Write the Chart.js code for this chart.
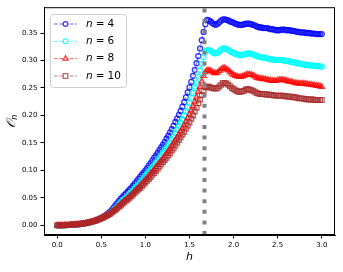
<!DOCTYPE html>
<html><head><meta charset="utf-8">
<script src="https://cdn.jsdelivr.net/npm/chart.js@4.4.0/dist/chart.umd.min.js"></script>
<style>html,body{margin:0;padding:0;background:#fff;}#wrap{width:343px;height:272px;}</style>
</head><body><div id="wrap"><canvas id="c" width="343" height="272"></canvas></div>
<script>
const h = [
0.00,0.02,0.04,0.06,0.08,0.10,0.12,0.14,0.16,0.18,
0.20,0.22,0.24,0.26,0.28,0.30,0.32,0.34,0.36,0.38,
0.40,0.42,0.44,0.46,0.48,0.50,0.52,0.54,0.56,0.58,
0.60,0.62,0.64,0.66,0.68,0.70,0.72,0.74,0.76,0.78,
0.80,0.82,0.84,0.86,0.88,0.90,0.92,0.94,0.96,0.98,
1.00,1.02,1.04,1.06,1.08,1.10,1.12,1.14,1.16,1.18,
1.20,1.22,1.24,1.26,1.28,1.30,1.32,1.34,1.36,1.38,
1.40,1.42,1.44,1.46,1.48,1.50,1.52,1.54,1.56,1.58,
1.60,1.62,1.64,1.66,1.68,1.70,1.72,1.74,1.76,1.78,
1.80,1.82,1.84,1.86,1.88,1.90,1.92,1.94,1.96,1.98,
2.00,2.02,2.04,2.06,2.08,2.10,2.12,2.14,2.16,2.18,
2.20,2.22,2.24,2.26,2.28,2.30,2.32,2.34,2.36,2.38,
2.40,2.42,2.44,2.46,2.48,2.50,2.52,2.54,2.56,2.58,
2.60,2.62,2.64,2.66,2.68,2.70,2.72,2.74,2.76,2.78,
2.80,2.82,2.84,2.86,2.88,2.90,2.92,2.94,2.96,2.98,
3.00];

const n4 = [
0,0,0.0000,0.0001,0.0002,0.0003,0.0004,0.0006,0.0008,0.0010,
0.0013,0.0016,0.0019,0.0023,0.0027,0.0032,0.0038,0.0044,0.0051,0.0059,
0.0067,0.0077,0.0088,0.0100,0.0113,0.0130,0.0150,0.0170,0.0193,0.0220,
0.025,0.028,0.032,0.036,0.040,0.044,0.048,0.051,0.055,0.058,
0.061,0.065,0.068,0.072,0.076,0.080,0.084,0.088,0.092,0.096,
0.100,0.104,0.109,0.113,0.118,0.123,0.127,0.132,0.137,0.142,
0.147,0.152,0.158,0.163,0.169,0.175,0.181,0.188,0.194,0.201,
0.208,0.216,0.224,0.233,0.242,0.251,0.261,0.272,0.283,0.295,
0.308,0.322,0.337,0.352,0.366,0.374,0.373,0.371,0.368,0.366,
0.365,0.367,0.370,0.373,0.375,0.375,0.374,0.373,0.371,0.370,
0.369,0.367,0.366,0.365,0.365,0.365,0.366,0.367,0.367,0.367,
0.366,0.365,0.364,0.362,0.361,0.360,0.360,0.359,0.359,0.359,
0.358,0.357,0.357,0.356,0.355,0.355,0.355,0.356,0.356,0.356,
0.355,0.355,0.355,0.354,0.354,0.353,0.352,0.352,0.351,0.351,
0.351,0.350,0.350,0.350,0.349,0.349,0.349,0.348,0.348,0.348,
0.348];

const n6 = [
0,0,0.0000,0.0001,0.0002,0.0003,0.0004,0.0006,0.0008,0.0010,
0.0013,0.0016,0.0019,0.0023,0.0027,0.0032,0.0038,0.0044,0.0051,0.0059,
0.0067,0.0077,0.0088,0.0100,0.0113,0.0127,0.0142,0.0158,0.0177,0.0198,
0.0225,0.025,0.028,0.031,0.034,0.038,0.041,0.045,0.048,0.050,
0.053,0.057,0.060,0.063,0.067,0.071,0.074,0.078,0.082,0.086,
0.090,0.094,0.098,0.102,0.106,0.110,0.114,0.118,0.123,0.127,
0.132,0.137,0.141,0.146,0.151,0.157,0.162,0.168,0.174,0.180,
0.187,0.193,0.200,0.207,0.215,0.223,0.232,0.241,0.250,0.260,
0.271,0.282,0.294,0.306,0.316,0.319,0.319,0.318,0.315,0.313,
0.313,0.314,0.317,0.320,0.322,0.322,0.321,0.319,0.317,0.315,
0.314,0.312,0.311,0.310,0.310,0.310,0.311,0.312,0.313,0.313,
0.312,0.311,0.310,0.308,0.307,0.306,0.306,0.305,0.305,0.304,
0.303,0.302,0.302,0.301,0.301,0.301,0.301,0.301,0.300,0.300,
0.299,0.299,0.298,0.297,0.297,0.296,0.295,0.295,0.294,0.293,
0.293,0.292,0.292,0.291,0.291,0.291,0.290,0.290,0.290,0.289,
0.289];

const n8 = [
0,0,0.0000,0.0001,0.0002,0.0003,0.0004,0.0006,0.0008,0.0010,
0.0013,0.0016,0.0019,0.0023,0.0027,0.0032,0.0038,0.0044,0.0051,0.0059,
0.0067,0.0077,0.0088,0.0100,0.0113,0.0127,0.0142,0.0158,0.0175,0.0194,
0.0215,0.024,0.027,0.029,0.032,0.035,0.038,0.041,0.044,0.047,
0.049,0.052,0.055,0.058,0.062,0.065,0.068,0.072,0.075,0.079,
0.083,0.086,0.090,0.094,0.098,0.102,0.106,0.110,0.114,0.118,
0.122,0.126,0.131,0.135,0.140,0.145,0.150,0.155,0.160,0.165,
0.171,0.176,0.182,0.189,0.195,0.202,0.209,0.217,0.225,0.233,
0.243,0.252,0.262,0.272,0.279,0.282,0.282,0.281,0.279,0.277,
0.277,0.278,0.281,0.284,0.286,0.286,0.284,0.282,0.279,0.276,
0.274,0.272,0.271,0.270,0.270,0.271,0.272,0.274,0.275,0.275,
0.274,0.273,0.271,0.269,0.268,0.267,0.267,0.266,0.266,0.265,
0.264,0.264,0.263,0.263,0.263,0.264,0.265,0.265,0.265,0.264,
0.263,0.262,0.261,0.261,0.260,0.259,0.259,0.258,0.258,0.258,
0.258,0.257,0.257,0.256,0.256,0.255,0.255,0.254,0.254,0.253,
0.252];

const n10 = [
0,0,0.0000,0.0001,0.0002,0.0003,0.0004,0.0006,0.0008,0.0010,
0.0013,0.0016,0.0019,0.0023,0.0027,0.0032,0.0038,0.0044,0.0051,0.0059,
0.0067,0.0077,0.0088,0.0100,0.0113,0.0127,0.0142,0.0158,0.0174,0.0192,
0.021,0.0235,0.026,0.028,0.031,0.034,0.036,0.039,0.042,0.045,
0.047,0.050,0.053,0.056,0.059,0.062,0.065,0.068,0.071,0.074,
0.078,0.081,0.084,0.088,0.092,0.095,0.099,0.103,0.107,0.111,
0.115,0.119,0.123,0.127,0.131,0.136,0.140,0.145,0.150,0.155,
0.160,0.165,0.170,0.176,0.181,0.187,0.194,0.200,0.207,0.214,
0.222,0.229,0.237,0.245,0.251,0.252,0.252,0.251,0.250,0.249,
0.249,0.250,0.253,0.256,0.259,0.259,0.258,0.256,0.253,0.250,
0.248,0.246,0.244,0.243,0.243,0.244,0.245,0.247,0.248,0.247,
0.246,0.245,0.243,0.241,0.240,0.239,0.239,0.239,0.238,0.238,
0.238,0.237,0.237,0.236,0.236,0.236,0.236,0.236,0.236,0.235,
0.235,0.234,0.234,0.234,0.233,0.233,0.232,0.231,0.231,0.231,
0.230,0.230,0.229,0.229,0.229,0.229,0.228,0.228,0.228,0.228,
0.228];

const seriesN = ['4','6','8','10'];
const xTicks = [0,0.5,1.0,1.5,2.0,2.5,3.0];
const yTicks = [0,0.05,0.10,0.15,0.20,0.25,0.30,0.35];
const hCritical = 1.67;

const X_MIN = -0.15, X_MAX = 3.15, Y_MIN = -0.0177, Y_MAX = 0.397;

const styles = [
  {color:'rgba(0,0,255,0.8)', line:'rgba(0,0,255,0.6)', shape:'circle'},
  {color:'rgba(0,255,255,0.85)', line:'rgba(0,230,230,0.6)', shape:'circle'},
  {color:'rgba(255,0,0,0.8)', line:'rgba(255,0,0,0.6)', shape:'triangle'},
  {color:'rgba(165,42,42,0.75)', line:'rgba(165,42,42,0.6)', shape:'rect'}
];
const allSeries = [n4, n6, n8, n10];

const datasets = allSeries.map((s, k) => ({
  label: 'n = ' + seriesN[k],
  data: h.map((x, i) => ({x: x, y: s[i]})),
  showLine: true,
  borderColor: styles[k].line,
  borderWidth: 1,
  borderDash: [3.7, 1.6],
  pointStyle: styles[k].shape,
  pointRadius: styles[k].shape === 'rect' ? 3.3 : (styles[k].shape === 'triangle' ? 3 : 2.5),
  pointBorderWidth: 1.3,
  pointBorderColor: styles[k].color,
  pointBackgroundColor: 'rgba(255,255,255,0)',
  order: 4 - k,
  clip: false
}));
datasets.push({
  label: 'critical',
  data: [{x: hCritical, y: Y_MIN}, {x: hCritical, y: Y_MAX}],
  showLine: true,
  borderColor: 'rgba(128,128,128,1)',
  borderWidth: 4,
  borderDash: [4, 6.6],
  borderCapStyle: 'butt',
  pointRadius: 0,
  order: 0
});

const frameAndText = {
  id: 'frameAndText',
  afterDraw(chart) {
    const ctx = chart.ctx, a = chart.chartArea;
    ctx.save();
    ctx.strokeStyle = '#000';
    ctx.lineWidth = 1;
    ctx.strokeRect(a.left + 0.5, a.top + 0.5, a.right - a.left - 1, a.bottom - a.top - 1);
    ctx.fillStyle = '#000';
    ctx.textAlign = 'center';
    ctx.textBaseline = 'middle';
    ctx.font = 'italic 11px "DejaVu Sans"';
    ctx.fillText('h', (a.left + a.right) / 2, 257);
    ctx.save();
    ctx.translate(12, (a.top + a.bottom) / 2);
    ctx.rotate(-Math.PI / 2);
    const mainFont = 'italic 13px "DejaVu Serif"';
    const subFont = 'italic 8px "DejaVu Sans"';
    const main = '\u{1D4AA}';
    ctx.font = mainFont;
    const w1 = ctx.measureText(main).width;
    ctx.font = subFont;
    const w2 = ctx.measureText('n').width;
    const start = -(w1 + w2) / 2;
    ctx.textAlign = 'left';
    ctx.font = mainFont;
    ctx.fillText(main, start, 0);
    ctx.font = subFont;
    ctx.fillText('n', start + w1, 3);
    ctx.restore();
    // legend
    const lx = 50, ly = 14, lw = 76, lh = 73;
    ctx.beginPath();
    if (ctx.roundRect) ctx.roundRect(lx + 0.5, ly + 0.5, lw, lh, 3); else ctx.rect(lx + 0.5, ly + 0.5, lw, lh);
    ctx.fillStyle = 'rgba(255,255,255,0.8)';
    ctx.fill();
    ctx.strokeStyle = '#cccccc';
    ctx.lineWidth = 1;
    ctx.stroke();
    const rows = [24, 41.3, 58.6, 76];
    rows.forEach((yy, k) => {
      const st = styles[k];
      ctx.save();
      ctx.strokeStyle = st.line;
      ctx.lineWidth = 1;
      ctx.setLineDash([3.7, 1.6]);
      ctx.beginPath(); ctx.moveTo(54, yy); ctx.lineTo(77, yy); ctx.stroke();
      ctx.setLineDash([]);
      ctx.strokeStyle = st.color;
      ctx.lineWidth = 1.2;
      ctx.beginPath();
      const cx = 65.5;
      if (st.shape === 'circle') ctx.arc(cx, yy, 2.4, 0, Math.PI * 2);
      else if (st.shape === 'triangle') { ctx.moveTo(cx, yy - 3); ctx.lineTo(cx + 2.6, yy + 1.5); ctx.lineTo(cx - 2.6, yy + 1.5); ctx.closePath(); }
      else ctx.rect(cx - 2.3, yy - 2.3, 4.6, 4.6);
      ctx.fillStyle = '#fff'; ctx.fill();
      ctx.stroke();
      ctx.restore();
      ctx.fillStyle = '#000';
      ctx.textAlign = 'left';
      ctx.textBaseline = 'middle';
      ctx.font = 'italic 10.5px "DejaVu Sans"';
      ctx.fillText('n', 86, yy);
      const wn = ctx.measureText('n').width;
      ctx.font = '10.5px "DejaVu Sans"';
      ctx.fillText('=', 86 + wn + 3, yy);
      const we = ctx.measureText('=').width;
      ctx.fillText(seriesN[k], 86 + wn + 3 + we + 3, yy);
    });
    ctx.restore();
  }
};

new Chart(document.getElementById('c'), {
  type: 'scatter',
  data: { datasets },
  options: {
    responsive: false,
    animation: false,
    layout: { padding: { top: 7, right: 8, left: 0, bottom: 0 } },
    plugins: { legend: { display: false }, tooltip: { enabled: false } },
    scales: {
      x: {
        type: 'linear', min: X_MIN, max: X_MAX,
        afterBuildTicks: s => { s.ticks = xTicks.map(v => ({ value: v })); },
        afterFit: s => { s.height = 37; },
        ticks: { callback: v => Number(v).toFixed(1), font: { family: 'DejaVu Sans', size: 7 }, color: '#000', padding: 2, maxRotation: 0, autoSkip: false },
        grid: { drawOnChartArea: false, drawTicks: true, tickLength: 3.5, color: '#000', tickWidth: 1 },
        border: { display: true, color: '#000', width: 1 }
      },
      y: {
        type: 'linear', min: Y_MIN, max: Y_MAX,
        afterBuildTicks: s => { s.ticks = yTicks.map(v => ({ value: v })); },
        afterFit: s => { s.width = 44; },
        ticks: { callback: v => Number(v).toFixed(2), font: { family: 'DejaVu Sans', size: 7 }, color: '#000', padding: 3, autoSkip: false },
        grid: { drawOnChartArea: false, drawTicks: true, tickLength: 3.5, color: '#000', tickWidth: 1 },
        border: { display: true, color: '#000', width: 1 }
      }
    }
  },
  plugins: [frameAndText]
});
</script>
</body></html>
